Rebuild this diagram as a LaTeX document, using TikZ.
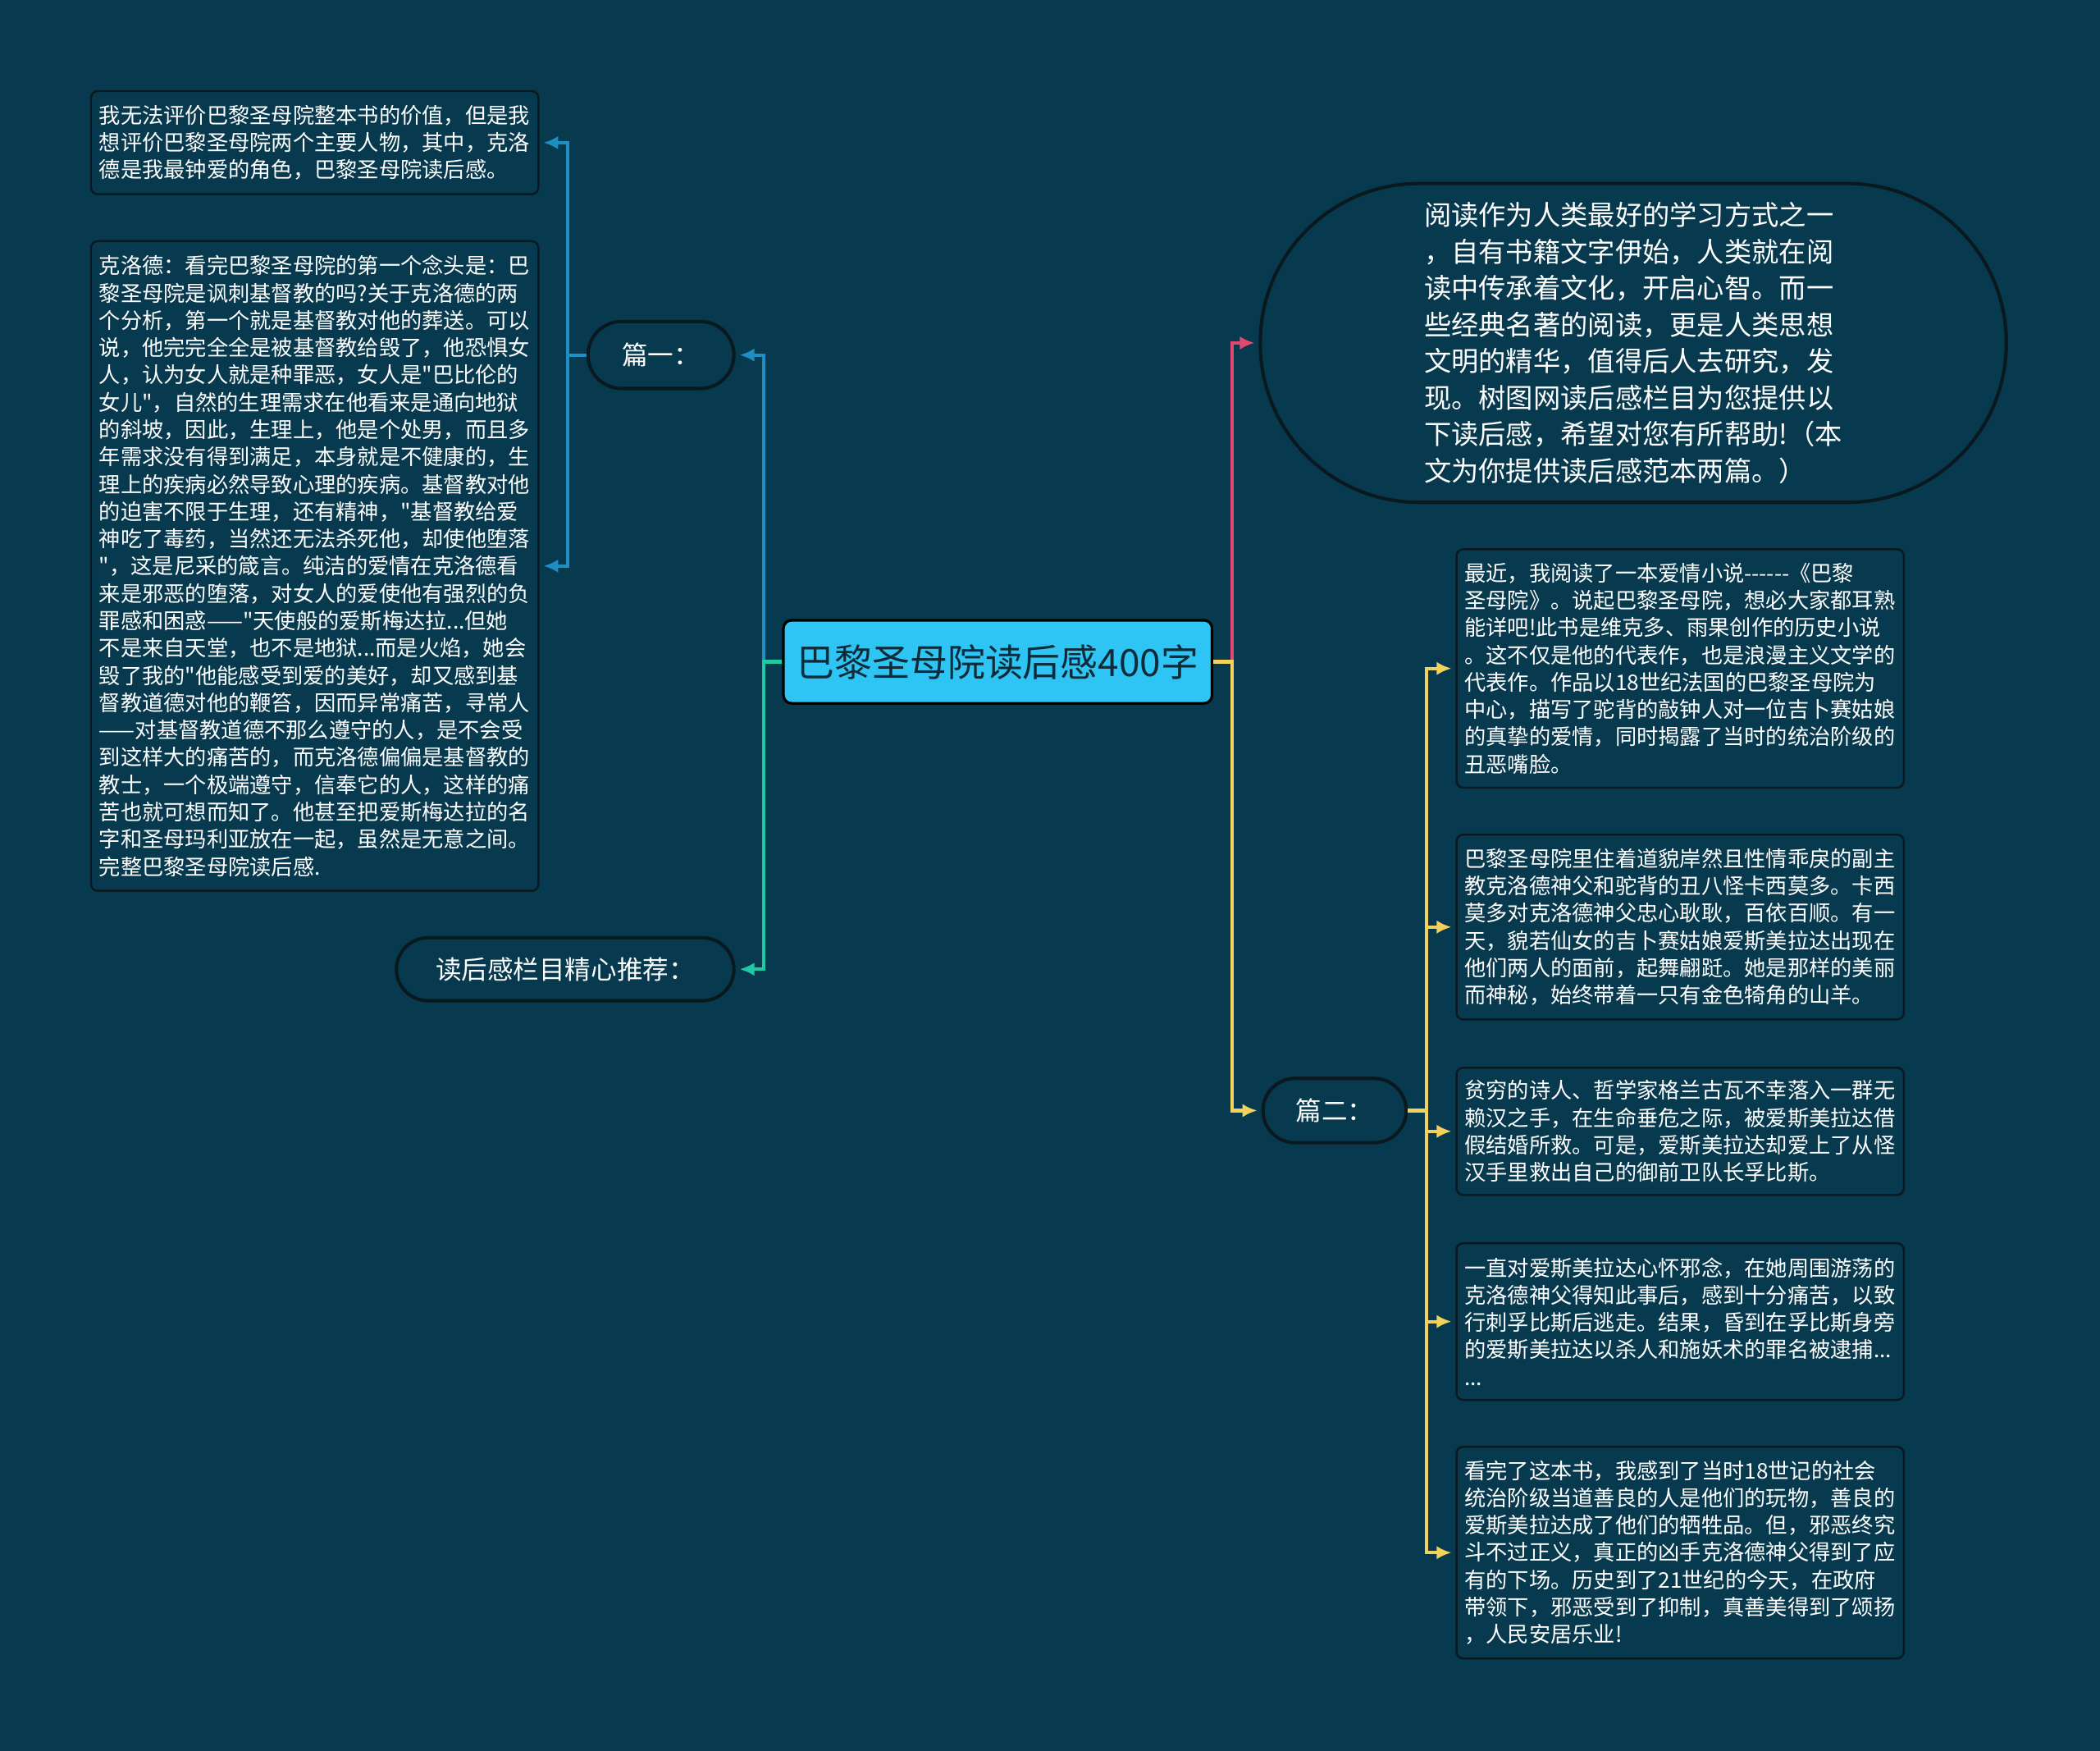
\documentclass[tikz,border=0pt]{standalone}
\usepackage{fontspec}
\newfontfamily\cjkfont{Noto Sans CJK SC}
\usepackage{tikz}
\usetikzlibrary{arrows.meta}
\usetikzlibrary{calc}
\definecolor{shutu-bg}{HTML}{073A4F}
\definecolor{shutu-sky}{HTML}{2EC5F5}
\definecolor{shutu-ink}{HTML}{0E2B3A}
\definecolor{shutu-edge}{HTML}{0A1820}
\definecolor{shutu-blue}{HTML}{1F8EC2}
\definecolor{shutu-green}{HTML}{21C9A2}
\definecolor{shutu-rose}{HTML}{E0486E}
\definecolor{shutu-gold}{HTML}{F3D25C}

\begin{document}
\begin{tikzpicture}[x=0.2mm, y=-0.2mm,
    textbox/.style={draw=shutu-edge, line width=0.3mm, rounded corners=1mm, fill=shutu-bg,
                    text=white, align=left, text width=64.4mm, inner xsep=1.2mm, minimum width=66.8mm,
                    font=\cjkfont\fontsize{9.15pt}{11.6pt}\selectfont},
    pill/.style={draw=shutu-edge, line width=0.5mm, fill=shutu-bg, text=white,
                 font=\cjkfont\fontsize{11pt}{13pt}\selectfont},
    link/.style={line width=0.5mm, -{Latex[length=2.2mm, width=2mm]}, shorten >=0.6mm}]

    % background
    \fill[shutu-bg] (0,0) rectangle (1568,1307);
    \useasboundingbox (0,0) rectangle (1568,1307);

    % root
    \node[draw=black, line width=0.4mm, rounded corners=1.2mm, fill=shutu-sky, text=shutu-ink,
          minimum width=64mm, minimum height=12.4mm,
          font=\cjkfont\fontsize{16pt}{19pt}\selectfont] (root) at (745,494) {巴黎圣母院读后感400字};

    % branches
    \node[pill, rounded corners=5mm, minimum width=21.8mm, minimum height=10mm] (p1) at (493.5,265) {篇一：};
    \node[pill, rounded corners=4.7mm, minimum width=50.4mm, minimum height=9.4mm] (rec) at (422,723.5) {读后感栏目精心推荐：};
    \node[pill, rounded corners=4.8mm, minimum width=21.4mm, minimum height=9.6mm] (p2) at (996.5,829) {篇二：};
    \node[pill, rounded corners=23.7mm, minimum width=111.4mm, minimum height=47.6mm,
          align=left, font=\cjkfont\fontsize{11.6pt}{15.5pt}\selectfont] (intro) at (1219.5,256) {%
        阅读作为人类最好的学习方式之一\\
        ，自有书籍文字伊始，人类就在阅\\
        读中传承着文化，开启心智。而一\\
        些经典名著的阅读，更是人类思想\\
        文明的精华，值得后人去研究，发\\
        现。树图网读后感栏目为您提供以\\
        下读后感，希望对您有所帮助!（本\\
        文为你提供读后感范本两篇。）};

    % part one
    \node[textbox, minimum height=15.4mm] (l1) at (235,106.5) {%
        我无法评价巴黎圣母院整本书的价值，但是我\\
        想评价巴黎圣母院两个主要人物，其中，克洛\\
        德是我最钟爱的角色，巴黎圣母院读后感。};
    \node[textbox, minimum height=97mm] (l2) at (235,422.5) {%
        克洛德：看完巴黎圣母院的第一个念头是：巴\\
        黎圣母院是讽刺基督教的吗?关于克洛德的两\\
        个分析，第一个就是基督教对他的葬送。可以\\
        说，他完完全全是被基督教给毁了，他恐惧女\\
        人，认为女人就是种罪恶，女人是"巴比伦的\\
        女儿"，自然的生理需求在他看来是通向地狱\\
        的斜坡，因此，生理上，他是个处男，而且多\\
        年需求没有得到满足，本身就是不健康的，生\\
        理上的疾病必然导致心理的疾病。基督教对他\\
        的迫害不限于生理，还有精神，"基督教给爱\\
        神吃了毒药，当然还无法杀死他，却使他堕落\\
        "，这是尼采的箴言。纯洁的爱情在克洛德看\\
        来是邪恶的堕落，对女人的爱使他有强烈的负\\
        罪感和困惑——"天使般的爱斯梅达拉...但她\\
        不是来自天堂，也不是地狱...而是火焰，她会\\
        毁了我的"他能感受到爱的美好，却又感到基\\
        督教道德对他的鞭笞，因而异常痛苦，寻常人\\
        ——对基督教道德不那么遵守的人，是不会受\\
        到这样大的痛苦的，而克洛德偏偏是基督教的\\
        教士，一个极端遵守，信奉它的人，这样的痛\\
        苦也就可想而知了。他甚至把爱斯梅达拉的名\\
        字和圣母玛利亚放在一起，虽然是无意之间。\\
        完整巴黎圣母院读后感.};

    % part two
    \node[textbox, minimum height=35.6mm] (r1) at (1254.5,499) {%
        最近，我阅读了一本爱情小说------《巴黎\\
        圣母院》。说起巴黎圣母院，想必大家都耳熟\\
        能详吧!此书是维克多、雨果创作的历史小说\\
        。这不仅是他的代表作，也是浪漫主义文学的\\
        代表作。作品以18世纪法国的巴黎圣母院为\\
        中心，描写了驼背的敲钟人对一位吉卜赛姑娘\\
        的真挚的爱情，同时揭露了当时的统治阶级的\\
        丑恶嘴脸。};
    \node[textbox, minimum height=27.6mm] (r2) at (1254.5,692) {%
        巴黎圣母院里住着道貌岸然且性情乖戾的副主\\
        教克洛德神父和驼背的丑八怪卡西莫多。卡西\\
        莫多对克洛德神父忠心耿耿，百依百顺。有一\\
        天，貌若仙女的吉卜赛姑娘爱斯美拉达出现在\\
        他们两人的面前，起舞翩跹。她是那样的美丽\\
        而神秘，始终带着一只有金色犄角的山羊。};
    \node[textbox, minimum height=19mm] (r3) at (1254.5,844.5) {%
        贫穷的诗人、哲学家格兰古瓦不幸落入一群无\\
        赖汉之手，在生命垂危之际，被爱斯美拉达借\\
        假结婚所救。可是，爱斯美拉达却爱上了从怪\\
        汉手里救出自己的御前卫队长孚比斯。};
    \node[textbox, minimum height=23.4mm] (r4) at (1254.5,986.5) {%
        一直对爱斯美拉达心怀邪念，在她周围游荡的\\
        克洛德神父得知此事后，感到十分痛苦，以致\\
        行刺孚比斯后逃走。结果，昏到在孚比斯身旁\\
        的爱斯美拉达以杀人和施妖术的罪名被逮捕...\\
        ...};
    \node[textbox, minimum height=31.6mm] (r5) at (1254.5,1159) {%
        看完了这本书，我感到了当时18世记的社会\\
        统治阶级当道善良的人是他们的玩物，善良的\\
        爱斯美拉达成了他们的牺牲品。但，邪恶终究\\
        斗不过正义，真正的凶手克洛德神父得到了应\\
        有的下场。历史到了21世纪的今天，在政府\\
        带领下，邪恶受到了抑制，真善美得到了颂扬\\
        ，人民安居乐业!};

    % connectors
    \draw[link, shutu-blue] (root.west) -- ++(-14,0) |- (p1.east);
    \draw[link, shutu-green] (root.west) -- ++(-14,0) |- (rec.east);
    \draw[link, shutu-blue] (p1.west) -- ++(-14,0) |- (l1.east);
    \draw[link, shutu-blue] (p1.west) -- ++(-14,0) |- (l2.east);
    \draw[link, shutu-rose] (root.east) -- ++(14,0) |- (intro.west);
    \draw[link, shutu-gold] (root.east) -- ++(14,0) |- (p2.west);
    \foreach \r in {r1,r2,r3,r4,r5}
        \draw[link, shutu-gold] (p2.east) -- ++(14,0) |- (\r.west);

\end{tikzpicture}
\end{document}
